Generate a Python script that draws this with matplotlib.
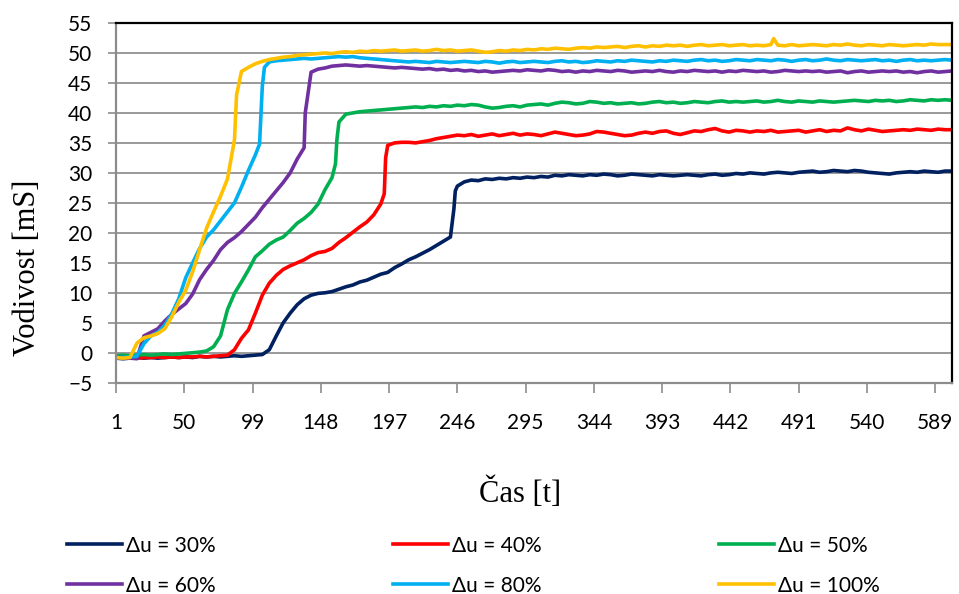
import numpy as np
import matplotlib
matplotlib.use('Agg')
import matplotlib.pyplot as plt

# time axis (sample index) and readings every 5 samples
t = np.arange(1, 602, 5)

labels = ['Δu = 30%', 'Δu = 40%', 'Δu = 50%', 'Δu = 60%', 'Δu = 80%', 'Δu = 100%']
colors = ['#002060', '#FF0000', '#00B050', '#7030A0', '#00B0F0', '#FFC000']
xtick_vals = [1, 50, 99, 148, 197, 246, 295, 344, 393, 442, 491, 540, 589]

y30 = [-0.9, -1.0, -0.9, -0.8, -0.9, -0.8, -0.9, -0.8, -0.7, -0.8,
       -0.7, -0.8, -0.6, -0.7, -0.6, -0.7, -0.6, -0.5, -0.6, -0.5,
       -0.4, -0.3, 0.5, 2.8, 5.0, 6.6, 8.0, 9.0, 9.6, 9.9,
       10.0, 10.2, 10.6, 11.0, 11.3, 11.8, 12.1, 12.6, 13.1, 13.4,
       14.2, 14.8, 15.5, 16.0, 16.6, 17.2, 17.9, 18.6, 19.3, 27.8,
       28.5, 28.8, 28.7, 29.0, 28.9, 29.1, 29.0, 29.2, 29.1, 29.3,
       29.2, 29.4, 29.3, 29.6, 29.5, 29.7, 29.6, 29.5, 29.7, 29.6,
       29.8, 29.7, 29.5, 29.6, 29.8, 29.7, 29.6, 29.5, 29.7, 29.6,
       29.5, 29.6, 29.7, 29.6, 29.5, 29.7, 29.8, 29.6, 29.7, 29.9,
       29.8, 30.0, 29.9, 29.8, 30.0, 30.1, 30.0, 29.9, 30.1, 30.2,
       30.3, 30.1, 30.2, 30.4, 30.3, 30.2, 30.4, 30.3, 30.1, 30.0,
       29.9, 29.8, 30.0, 30.1, 30.2, 30.1, 30.3, 30.2, 30.1, 30.3,
       30.3]
y40 = [-0.8, -0.9, -0.8, -0.9, -0.8, -0.8, -0.7, -0.8, -0.7, -0.8,
       -0.7, -0.7, -0.6, -0.7, -0.6, -0.5, -0.4, 0.5, 2.4, 3.8,
       6.6, 9.6, 11.6, 12.9, 13.9, 14.5, 15.0, 15.5, 16.2, 16.7,
       16.9, 17.4, 18.4, 19.2, 20.1, 21.0, 21.8, 23.0, 24.8, 34.6,
       35.0, 35.1, 35.1, 35.0, 35.2, 35.4, 35.7, 35.9, 36.1, 36.3,
       36.2, 36.4, 36.1, 36.3, 36.5, 36.2, 36.4, 36.6, 36.3, 36.5,
       36.4, 36.2, 36.5, 36.8, 36.6, 36.4, 36.2, 36.3, 36.5, 36.9,
       36.8, 36.6, 36.4, 36.2, 36.3, 36.6, 36.8, 36.6, 36.9, 37.0,
       36.6, 36.4, 36.7, 37.0, 36.9, 37.2, 37.4, 37.0, 36.8, 37.1,
       37.0, 36.8, 37.0, 36.9, 37.1, 36.8, 36.9, 37.0, 37.1, 36.8,
       37.0, 37.2, 36.9, 37.1, 37.0, 37.5, 37.2, 37.0, 37.3, 37.1,
       36.9, 37.0, 37.1, 37.2, 37.1, 37.3, 37.2, 37.1, 37.3, 37.2,
       37.2]
y50 = [-0.5, -0.4, -0.5, -0.4, -0.3, -0.4, -0.3, -0.2, -0.3, -0.2,
       -0.1, 0.0, 0.1, 0.3, 1.0, 2.8, 7.2, 9.9, 11.8, 13.8,
       16.0, 17.0, 18.1, 18.8, 19.3, 20.4, 21.6, 22.4, 23.4, 24.8,
       27.2, 29.2, 38.5, 39.8, 40.0, 40.2, 40.3, 40.4, 40.5, 40.6,
       40.7, 40.8, 40.9, 41.0, 40.9, 41.1, 41.0, 41.2, 41.1, 41.3,
       41.2, 41.4, 41.3, 41.0, 40.8, 40.9, 41.1, 41.2, 41.0, 41.3,
       41.4, 41.5, 41.3, 41.6, 41.8, 41.7, 41.5, 41.6, 41.9, 41.8,
       41.6, 41.7, 41.5, 41.6, 41.7, 41.5, 41.6, 41.8, 41.9, 41.7,
       41.8, 41.6, 41.7, 41.9, 41.8, 41.7, 41.9, 42.0, 41.8, 41.9,
       41.8, 41.9, 42.0, 41.8, 41.9, 42.1, 41.9, 41.8, 42.0, 41.9,
       41.8, 42.0, 41.9, 41.8, 41.9, 42.0, 42.1, 42.0, 41.9, 42.1,
       42.0, 42.1, 41.9, 42.0, 42.2, 42.1, 42.0, 42.2, 42.1, 42.2,
       42.1]
y60 = [-0.8, -0.8, -0.9, -1.0, 2.8, 3.4, 4.0, 5.3, 6.4, 7.3,
       8.2, 9.8, 12.2, 13.9, 15.4, 17.2, 18.4, 19.2, 20.2, 21.4,
       22.6, 24.2, 25.6, 27.0, 28.4, 30.0, 32.3, 34.2, 46.8, 47.3,
       47.5, 47.8, 47.9, 48.0, 47.9, 47.8, 47.9, 47.8, 47.7, 47.6,
       47.5, 47.6, 47.5, 47.4, 47.3, 47.4, 47.2, 47.3, 47.1, 47.2,
       47.0, 47.1, 46.9, 47.0, 46.8, 46.9, 47.0, 47.1, 47.0, 47.2,
       47.1, 47.0, 47.2, 47.1, 46.9, 47.0, 46.8, 47.0, 46.9, 47.1,
       47.0, 46.9, 47.1, 47.0, 46.8, 46.9, 47.0, 46.9, 47.1, 46.9,
       46.8, 47.0, 46.9, 47.1, 47.0, 46.9, 47.0, 46.8, 47.0, 46.9,
       47.1, 47.0, 46.9, 47.0, 46.8, 46.9, 47.1, 47.0, 46.9, 47.0,
       46.9, 47.0, 46.8, 46.9, 47.0, 46.7, 46.9, 47.0, 46.8, 46.9,
       47.0, 46.9, 47.0, 46.8, 46.9, 46.7, 46.9, 47.0, 46.8, 46.9,
       47.0]
y80 = [-0.8, -0.8, -0.7, -0.6, 1.5, 2.8, 3.4, 4.6, 6.5, 9.0,
       12.5, 15.0, 17.4, 19.3, 20.5, 22.0, 23.5, 25.0, 27.6, 30.4,
       33.0, 44.5, 48.5, 48.7, 48.8, 48.9, 49.0, 49.1, 49.0, 49.1,
       49.2, 49.3, 49.4, 49.3, 49.4, 49.2, 49.1, 49.0, 48.9, 48.8,
       48.7, 48.6, 48.5, 48.6, 48.5, 48.4, 48.6, 48.5, 48.4, 48.5,
       48.6, 48.5, 48.4, 48.6, 48.5, 48.3, 48.5, 48.6, 48.4, 48.5,
       48.6, 48.5, 48.4, 48.6, 48.7, 48.5, 48.6, 48.4, 48.5, 48.7,
       48.6, 48.5, 48.7, 48.6, 48.8, 48.7, 48.6, 48.5, 48.7, 48.6,
       48.8, 48.7, 48.6, 48.8, 48.9, 48.7, 48.8, 48.6, 48.7, 48.9,
       48.8, 48.7, 48.9, 48.8, 48.7, 48.9, 48.8, 48.6, 48.8, 48.9,
       48.7, 48.8, 49.0, 48.8, 48.7, 48.9, 48.8, 48.7, 48.8, 48.9,
       48.7, 48.8, 48.6, 48.8, 48.9, 48.7, 48.8, 48.7, 48.8, 48.9,
       48.8]
y100 = [-0.8, -0.9, -0.8, 1.6, 2.5, 2.8, 3.2, 4.0, 6.0, 8.4,
        10.4, 13.5, 17.2, 20.8, 23.5, 26.1, 29.0, 35.5, 46.9, 47.6,
        48.2, 48.6, 48.9, 49.1, 49.3, 49.4, 49.6, 49.7, 49.8, 49.9,
        50.0, 49.9, 50.1, 50.2, 50.1, 50.3, 50.2, 50.4, 50.3, 50.4,
        50.5, 50.3, 50.4, 50.5, 50.3, 50.4, 50.6, 50.4, 50.5, 50.3,
        50.4, 50.5, 50.3, 50.1, 50.2, 50.4, 50.3, 50.5, 50.4, 50.6,
        50.5, 50.7, 50.6, 50.8, 50.7, 50.6, 50.8, 50.9, 50.8, 51.0,
        50.9, 51.0, 51.1, 50.9, 51.1, 51.2, 51.0, 51.2, 51.1, 51.3,
        51.2, 51.3, 51.1, 51.3, 51.4, 51.2, 51.3, 51.4, 51.2, 51.3,
        51.4, 51.2, 51.3, 51.2, 51.4, 51.3, 51.2, 51.4, 51.2, 51.3,
        51.4, 51.3, 51.2, 51.4, 51.3, 51.5, 51.3, 51.2, 51.4, 51.3,
        51.2, 51.4, 51.3, 51.2, 51.3, 51.4, 51.3, 51.5, 51.4, 51.4,
        51.4]

# extra readings on the steep steps (time, value)
extra30 = ([243.5, 244.5], [24.0, 27.0])
extra40 = ([193.5, 194.5], [26.5, 32.5])
extra50 = ([158.5, 159.5], [31.5, 35.5])
extra60 = ([136.8], [40.0])
extra80 = ([104.0, 107.5], [34.8, 47.6])
extra100 = ([87.5, 473.0], [43.0, 52.4])

series = [y30, y40, y50, y60, y80, y100]
extras = [extra30, extra40, extra50, extra60, extra80, extra100]

fig = plt.figure(figsize=(9.59, 5.94), dpi=100)
ax = fig.add_axes([0.1210, 0.3557, 0.8717, 0.6056])

lines = []
for y, (et, ev), c, lab in zip(series, extras, colors, labels):
    tt = np.concatenate([t, et])
    yy = np.concatenate([y, ev])
    order = np.argsort(tt)
    ln, = ax.plot(tt[order], yy[order], color=c, lw=2.6, label=lab,
                  solid_joinstyle='round')
    lines.append(ln)

ax.set_xlim(1, 601)
ax.set_ylim(-5, 55)
ax.set_yticks(range(-5, 56, 5))
ax.set_xticks(xtick_vals)
ax.yaxis.grid(True, color='#9a9a9a', lw=1.4)
ax.set_axisbelow(True)

for s in ['top', 'right']:
    ax.spines[s].set_color('black')
    ax.spines[s].set_linewidth(1.6)
for s in ['left', 'bottom']:
    ax.spines[s].set_color('#8c8c8c')
    ax.spines[s].set_linewidth(1.6)

tick_font = ['Lato', 'DejaVu Sans']
ax.tick_params(axis='y', direction='out', length=6, width=1.2, color='#8c8c8c',
               pad=11, labelsize=15)
ax.tick_params(axis='x', direction='out', length=7, width=1.2, color='#8c8c8c',
               pad=15, labelsize=15)
for lbl in ax.get_xticklabels() + ax.get_yticklabels():
    lbl.set_family(tick_font)

fig.text(28 / 959, 1 - 268 / 594, 'Vodivost [mS]', rotation=90, ha='center',
         va='center', family='Liberation Serif', fontsize=22)
fig.text(520 / 959, 1 - 493 / 594, 'Čas [t]', ha='center', va='center',
         family='Liberation Serif', fontsize=22)

order = [0, 3, 1, 4, 2, 5]
fig.legend([lines[i] for i in order], [labels[i] for i in order],
           ncol=3, loc='upper left', bbox_to_anchor=(48 / 959, 1 - 517 / 594),
           frameon=False, prop={'family': tick_font, 'size': 15},
           handlelength=2.65, handletextpad=0.2, columnspacing=8.5,
           labelspacing=0.95)

fig.savefig('out.png', dpi=100)
